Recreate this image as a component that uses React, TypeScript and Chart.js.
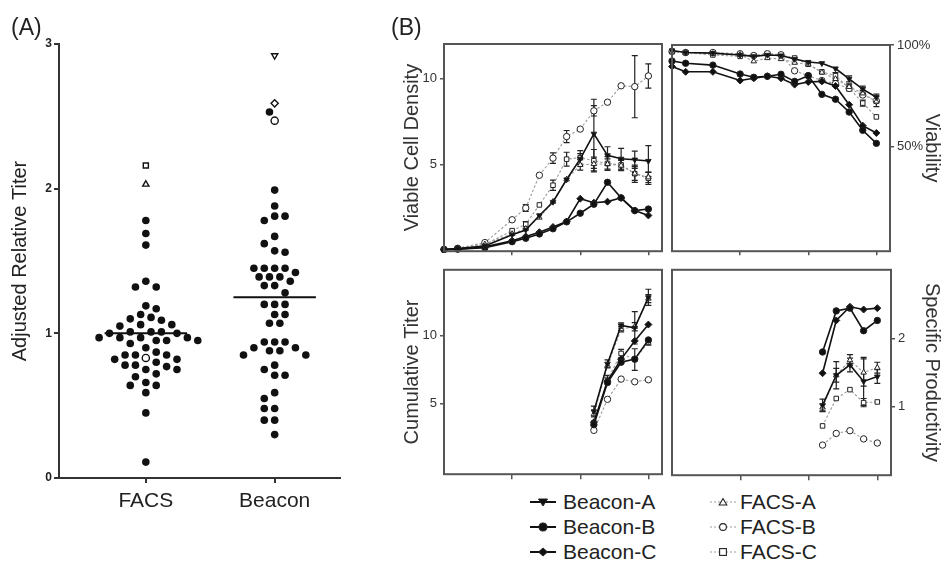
import React, { useEffect, useRef } from "react";
import { Chart, registerables } from "chart.js";
Chart.register(...registerables);

const FONT = "'Liberation Sans', Arial, Helvetica, sans-serif";

// ---------------- Panel A data ----------------
const groupCategories = ["FACS", "Beacon"];
const facsTiters = [
  1.78, 1.69, 1.61, 1.36, 1.32, 1.32, 1.19, 1.17, 1.13, 1.11, 1.1, 1.09, 1.06, 1.06, 1.05,
  1.01, 1.01, 1.01, 1.0, 1.0, 0.97, 0.97, 0.97, 0.97, 0.95, 0.95, 0.95, 0.93, 0.9, 0.87,
  0.85, 0.85, 0.85, 0.82, 0.82, 0.8, 0.78, 0.78, 0.77, 0.75, 0.75, 0.72, 0.7, 0.66, 0.64,
  0.64, 0.59, 0.45, 0.11,
];
const beaconTiters = [
  2.53, 1.99, 1.88, 1.81, 1.81, 1.78, 1.67, 1.62, 1.57, 1.56, 1.45, 1.45, 1.45, 1.45, 1.42,
  1.39, 1.39, 1.39, 1.36, 1.33, 1.33, 1.28, 1.2, 1.2, 1.2, 1.13, 1.13, 1.07, 1.07, 0.94,
  0.94, 0.94, 0.9, 0.9, 0.88, 0.88, 0.85, 0.85, 0.78, 0.75, 0.71, 0.71, 0.59, 0.55, 0.48,
  0.48, 0.4, 0.4, 0.3,
];
const facsPickedNames = ["FACS-A", "FACS-B", "FACS-C"];
const facsPickedTiters = [2.03, 0.83, 2.16];
const beaconPickedNames = ["Beacon-A", "Beacon-B", "Beacon-C"];
const beaconPickedTiters = [2.92, 2.47, 2.59];
const groupMeans = [1.0, 1.25];

// ---------------- Panel B data ----------------
const seriesNames = ["Beacon-A", "Beacon-B", "Beacon-C", "FACS-A", "FACS-B", "FACS-C"];
const growthDays = [0, 1, 3, 5, 6, 7, 8, 9, 10, 11, 12, 13, 14, 15];
const titerDays = [11, 12, 13, 14, 15];

// Viable cell density
const vcdBeaconA = [0.1, 0.15, 0.3, 0.95, 1.23, 2.07, 2.85, 4.15, 5.35, 6.8, 5.55, 5.35, 5.3, 5.22];
const vcdBeaconB = [0.1, 0.12, 0.2, 0.55, 0.75, 1.0, 1.3, 1.7, 2.2, 2.72, 3.99, 3.09, 2.35, 2.44];
const vcdBeaconC = [0.1, 0.12, 0.25, 0.6, 0.85, 1.1, 1.4, 1.72, 3.04, 2.81, 2.87, 3.09, 2.35, 2.07];
const vcdFacsA = [0.1, 0.15, 0.4, 1.0, 1.3, 1.95, 2.87, 4.16, 5.0, 5.05, 5.05, 4.96, 4.5, 4.28];
const vcdFacsB = [0.1, 0.17, 0.5, 1.82, 2.5, 4.4, 5.39, 6.64, 7.07, 8.13, 8.63, 9.58, 9.53, 10.15];
const vcdFacsC = [0.1, 0.15, 0.39, 1.19, 1.56, 2.68, 3.82, 5.33, 5.42, 5.24, 5.08, 5.0, 4.49, 4.22];
const vcdErrBeaconA = [0, 0, 0, 0, 0, 0, 0, 0, 0.3, 2.0, 0.5, 0.6, 0.5, 0.9];
const vcdErrFacsA = [0, 0, 0, 0, 0, 0, 0, 0, 0.3, 0.4, 0.3, 0.3, 0.4, 0.3];
const vcdErrFacsB = [0, 0, 0, 0, 0.2, 0, 0.3, 0.35, 0, 0.3, 0, 0, 1.8, 0.7];
const vcdErrFacsC = [0, 0, 0, 0, 0.15, 0, 0.3, 0.4, 0.4, 0.65, 0.4, 0.3, 0.5, 0.35];

// Viability (%)
const viaBeaconA = [97.3, 96.3, 96.0, 95.1, 94.4, 95.1, 94.8, 93.1, 91.6, 91.0, 88.4, 83.3, 78.3, 74.3];
const viaBeaconB = [92.1, 91.0, 90.1, 85.7, 84.1, 84.6, 85.6, 82.1, 84.9, 75.7, 73.3, 67.0, 58.0, 51.6];
const viaBeaconC = [89.4, 86.8, 86.8, 82.5, 83.6, 84.6, 83.6, 80.5, 81.8, 82.1, 79.8, 70.6, 60.3, 56.7];
const viaFacsA = [96.8, 96.3, 95.7, 95.2, 92.0, 93.6, 93.1, 91.3, 90.5, 86.5, 83.3, 79.4, 76.2, 72.2];
const viaFacsB = [96.8, 96.3, 96.3, 95.7, 94.8, 95.7, 95.2, 87.3, 84.9, 82.5, 81.0, 78.6, 75.4, 72.5];
const viaFacsC = [96.8, 96.2, 95.1, 94.4, 94.8, 95.7, 95.1, 93.6, 90.5, 86.8, 84.9, 78.9, 71.4, 64.6];
const viaErrBeaconA = [0, 0, 0, 0, 0, 0, 0, 0, 0, 0, 0, 1.5, 1.5, 1.5];
const viaErrFacsA = [0, 0, 0, 0, 0, 0, 0, 0, 0, 0, 0, 1.5, 1.5, 2.5];
const viaErrFacsC = [0, 0, 0, 0, 0, 0, 0, 0, 0, 0, 1.5, 1.5, 1.5, 0];

// Cumulative titer
const ctBeaconA = [4.4, 7.93, 10.77, 10.6, 12.86];
const ctBeaconB = [3.42, 6.54, 8.05, 8.28, 9.7];
const ctBeaconC = [3.6, 6.65, 8.28, 9.63, 10.84];
const ctFacsA = [4.2, 7.8, 10.5, 10.68, 12.77];
const ctFacsB = [3.0, 5.3, 6.8, 6.6, 6.75];
const ctFacsC = [3.56, 6.77, 8.7, 8.25, 9.52];
const ctErrBeaconA = [0.4, 0.3, 0.2, 1.2, 0.6];
const ctErrFacsA = [0, 0, 0.2, 0.3, 0.3];
const ctErrFacsC = [0, 0.3, 0.3, 0.8, 0.2];

// Specific productivity
const spBeaconA = [1.02, 1.46, 1.61, 1.37, 1.44];
const spBeaconB = [1.8, 2.4, 2.44, 2.11, 2.26];
const spBeaconC = [1.49, 2.26, 2.46, 2.42, 2.44];
const spFacsA = [0.99, 1.46, 1.68, 1.5, 1.57];
const spFacsB = [0.44, 0.61, 0.65, 0.53, 0.47];
const spFacsC = [0.72, 1.12, 1.25, 1.06, 1.07];
const spErrBeaconA = [0.09, 0.2, 0.1, 0.35, 0.1];
const spErrFacsA = [0.05, 0.1, 0.08, 0.2, 0.08];
const spErrFacsC = [0, 0, 0, 0.06, 0];

// ---------------- styles ----------------
type Style = { pointStyle: string; rotation: number; filled: boolean; beacon: boolean };
const STYLES: Record<string, Style> = {
  "Beacon-A": { pointStyle: "triangle", rotation: 180, filled: true, beacon: true },
  "Beacon-B": { pointStyle: "circle", rotation: 0, filled: true, beacon: true },
  "Beacon-C": { pointStyle: "rectRot", rotation: 0, filled: true, beacon: true },
  "FACS-A": { pointStyle: "triangle", rotation: 0, filled: false, beacon: false },
  "FACS-B": { pointStyle: "circle", rotation: 0, filled: false, beacon: false },
  "FACS-C": { pointStyle: "rect", rotation: 0, filled: false, beacon: false },
};

function seriesDataset(name: string, days: number[], values: number[], errors?: number[]) {
  const s = STYLES[name];
  return {
    label: name,
    data: days.map((d, i) => ({ x: d, y: values[i] })),
    errorBars: errors,
    showLine: true,
    borderColor: s.beacon ? "#111" : "#9a9a9a",
    borderWidth: s.beacon ? 1.6 : 1.1,
    borderDash: s.beacon ? [] : [2.5, 2],
    pointStyle: s.pointStyle,
    pointRotation: s.rotation,
    pointRadius: s.pointStyle === "rectRot" ? 3.5 : 3.2,
    pointBackgroundColor: s.filled ? "#111" : "#fff",
    pointBorderColor: "#222",
    pointBorderWidth: 1,
    clip: false as any,
  };
}

const framePlugin = {
  id: "frame",
  afterDraw(chart: any) {
    const { left, top, right, bottom } = chart.chartArea;
    const ctx = chart.ctx;
    ctx.save();
    ctx.strokeStyle = "#555";
    ctx.lineWidth = 2;
    ctx.strokeRect(left, top, right - left, bottom - top);
    ctx.restore();
  },
};

const errorBarPlugin = {
  id: "errorBars",
  beforeDatasetsDraw(chart: any) {
    const ctx = chart.ctx;
    const xs = chart.scales.x;
    const ys = chart.scales.y;
    chart.data.datasets.forEach((ds: any) => {
      const errs: number[] | undefined = ds.errorBars;
      if (!errs) return;
      ctx.save();
      ctx.strokeStyle = "#222";
      ctx.lineWidth = 1.2;
      ds.data.forEach((p: any, i: number) => {
        const e = errs[i];
        if (!e) return;
        const x = xs.getPixelForValue(p.x);
        const y1 = ys.getPixelForValue(p.y - e);
        const y2 = ys.getPixelForValue(p.y + e);
        ctx.beginPath();
        ctx.moveTo(x, y1);
        ctx.lineTo(x, y2);
        ctx.moveTo(x - 3, y1);
        ctx.lineTo(x + 3, y1);
        ctx.moveTo(x - 3, y2);
        ctx.lineTo(x + 3, y2);
        ctx.stroke();
      });
      ctx.restore();
    });
  },
};

type PanelOpts = {
  datasets: any[];
  yMin: number;
  yMax: number;
  yTicks: number[];
  suffix: string;
  title: string;
  yPos: "left" | "right";
  padding: any;
  yWidth: number;
  xHeight: number;
  titlePad: number;
};

function panelConfig(p: PanelOpts): any {
  return {
    type: "scatter",
    data: { datasets: p.datasets },
    options: {
      animation: false,
      responsive: false,
      maintainAspectRatio: false,
      layout: { padding: p.padding },
      plugins: { legend: { display: false }, tooltip: { enabled: false } },
      scales: {
        x: {
          type: "linear",
          min: 0,
          max: 16,
          afterBuildTicks: (s: any) => {
            s.ticks = [5, 10, 15].map((v) => ({ value: v }));
          },
          ticks: { display: false },
          grid: { drawOnChartArea: false, drawTicks: true, tickLength: p.xHeight, color: "#555", lineWidth: 1.5 },
          border: { display: false },
          afterFit: (s: any) => {
            s.height = p.xHeight;
          },
        },
        y: {
          type: "linear",
          position: p.yPos,
          min: p.yMin,
          max: p.yMax,
          afterBuildTicks: (s: any) => {
            s.ticks = p.yTicks.map((v) => ({ value: v }));
          },
          ticks: {
            font: { family: FONT, size: 13 },
            color: "#333",
            padding: 3,
            callback: (v: any) => `${v}${p.suffix}`,
          },
          grid: { drawOnChartArea: false, drawTicks: true, tickLength: 4, color: "#555", lineWidth: 1.5 },
          border: { display: false },
          title: {
            display: true,
            text: p.title,
            font: { family: FONT, size: 20 },
            color: "#333",
            padding: { top: p.titlePad, bottom: 0 },
          },
          afterFit: (s: any) => {
            s.width = p.yWidth;
          },
        },
      },
    },
    plugins: [framePlugin, errorBarPlugin],
  };
}

function swarmOffsets(values: number[]): number[] {
  const PX_X = 129;
  const PX_Y = 144.7;
  const D = 9.4;
  const STEP = 5.2;
  const idx = values.map((_, i) => i).sort((a, b) => values[b] - values[a]);
  const placed: { x: number; y: number }[] = [];
  const out = new Array(values.length).fill(0);
  idx.forEach((i, n) => {
    const y = values[i] * PX_Y;
    for (let k = 0; k < 80; k++) {
      const cands = k === 0 ? [0] : n % 2 ? [k * STEP, -k * STEP] : [-k * STEP, k * STEP];
      let found: number | null = null;
      for (const c of cands) {
        if (placed.every((q) => Math.hypot(q.x - c, q.y - y) >= D)) {
          found = c;
          break;
        }
      }
      if (found !== null) {
        placed.push({ x: found, y });
        out[i] = found / PX_X;
        break;
      }
    }
  });
  return out;
}

function panelAConfig(): any {
  const groups = [
    { values: facsTiters, picked: facsPickedTiters, names: facsPickedNames },
    { values: beaconTiters, picked: beaconPickedTiters, names: beaconPickedNames },
  ];
  const datasets: any[] = [];
  groups.forEach((g, gi) => {
    const center = gi + 1;
    const all = [...g.values, ...g.picked];
    const off = swarmOffsets(all);
    datasets.push({
      label: groupCategories[gi] + " mean",
      data: [
        { x: center - 0.32, y: groupMeans[gi] },
        { x: center + 0.32, y: groupMeans[gi] },
      ],
      showLine: true,
      borderColor: "#111",
      borderWidth: 2,
      pointRadius: 0,
    });
    datasets.push({
      label: groupCategories[gi],
      data: g.values.map((v, i) => ({ x: center + off[i], y: v })),
      pointStyle: "circle",
      pointRadius: 3.8,
      pointBackgroundColor: "#111",
      pointBorderColor: "#111",
      pointBorderWidth: 0,
      showLine: false,
    });
    g.picked.forEach((v, j) => {
      const s = STYLES[g.names[j]];
      datasets.push({
        label: g.names[j],
        data: [{ x: center + off[g.values.length + j], y: v }],
        pointStyle: s.pointStyle,
        pointRotation: s.rotation,
        pointRadius: 3.6,
        pointBackgroundColor: "#fff",
        pointBorderColor: "#111",
        pointBorderWidth: 1.4,
        showLine: false,
      });
    });
  });
  return {
    type: "scatter",
    data: { datasets },
    options: {
      animation: false,
      responsive: false,
      maintainAspectRatio: false,
      layout: { padding: { top: 44, right: 5, bottom: 12, left: 0 } },
      plugins: { legend: { display: false }, tooltip: { enabled: false } },
      scales: {
        x: {
          type: "linear",
          min: 0.326,
          max: 2.504,
          afterBuildTicks: (s: any) => {
            s.ticks = [1, 2].map((v) => ({ value: v }));
          },
          ticks: {
            font: { family: FONT, size: 21 },
            color: "#222",
            padding: 6,
            maxRotation: 0,
            autoSkip: false,
            callback: (v: any) => groupCategories[Math.round(v) - 1],
          },
          grid: { drawOnChartArea: false, drawTicks: true, tickLength: 5, color: "#333", lineWidth: 2 },
          border: { display: true, color: "#333", width: 2 },
          afterFit: (s: any) => {
            s.height = 40;
          },
        },
        y: {
          type: "linear",
          min: 0,
          max: 3,
          afterBuildTicks: (s: any) => {
            s.ticks = [0, 1, 2, 3].map((v) => ({ value: v }));
          },
          ticks: { font: { family: FONT, size: 12, weight: "bold" }, color: "#222", padding: 2 },
          grid: { drawOnChartArea: false, drawTicks: true, tickLength: 5, color: "#333", lineWidth: 2 },
          border: { display: true, color: "#333", width: 2 },
          title: {
            display: true,
            text: "Adjusted Relative Titer",
            font: { family: FONT, size: 20 },
            color: "#222",
            padding: { top: 8, bottom: 0 },
          },
          afterFit: (s: any) => {
            s.width = 59;
          },
        },
      },
    },
  };
}

function buildPanelB() {
  const mk = (days: number[], vals: number[][], errs: (number[] | undefined)[]) =>
    seriesNames.map((n, i) => seriesDataset(n, days, vals[i], errs[i]));
  return {
    tl: panelConfig({
      datasets: mk(growthDays, [vcdBeaconA, vcdBeaconB, vcdBeaconC, vcdFacsA, vcdFacsB, vcdFacsC], [
        vcdErrBeaconA, undefined, undefined, vcdErrFacsA, vcdErrFacsB, vcdErrFacsC,
      ]),
      yMin: 0, yMax: 12, yTicks: [5, 10], suffix: "", title: "Viable Cell Density", yPos: "left",
      padding: { top: 14, right: 2, bottom: 0, left: 0 }, yWidth: 59, xHeight: 4, titlePad: 15,
    }),
    tr: panelConfig({
      datasets: mk(growthDays, [viaBeaconA, viaBeaconB, viaBeaconC, viaFacsA, viaFacsB, viaFacsC], [
        viaErrBeaconA, undefined, undefined, viaErrFacsA, undefined, viaErrFacsC,
      ]),
      yMin: -1.5, yMax: 100, yTicks: [50, 100], suffix: "%", title: "Viability", yPos: "right",
      padding: { top: 15, right: 0, bottom: 0, left: 2 }, yWidth: 54, xHeight: 4, titlePad: 0,
    }),
    bl: panelConfig({
      datasets: mk(titerDays, [ctBeaconA, ctBeaconB, ctBeaconC, ctFacsA, ctFacsB, ctFacsC], [
        ctErrBeaconA, undefined, undefined, ctErrFacsA, undefined, ctErrFacsC,
      ]),
      yMin: -0.25, yMax: 14.9, yTicks: [5, 10], suffix: "", title: "Cumulative Titer", yPos: "left",
      padding: { top: 3, right: 2, bottom: 3, left: 0 }, yWidth: 59, xHeight: 5, titlePad: 15,
    }),
    br: panelConfig({
      datasets: mk(titerDays, [spBeaconA, spBeaconB, spBeaconC, spFacsA, spFacsB, spFacsC], [
        spErrBeaconA, undefined, undefined, spErrFacsA, undefined, spErrFacsC,
      ]),
      yMin: 0, yMax: 3, yTicks: [1, 2], suffix: "", title: "Specific Productivity", yPos: "right",
      padding: { top: 3, right: 0, bottom: 3, left: 2 }, yWidth: 53, xHeight: 5, titlePad: 0,
    }),
  };
}

function LegendGlyph({ name }: { name: string }) {
  const s = STYLES[name];
  const fill = s.filled ? "#111" : "#fff";
  const cx = 13, cy = 8;
  let marker: React.ReactNode = null;
  if (s.pointStyle === "circle") {
    marker = <circle cx={cx} cy={cy} r={s.filled ? 4 : 3.4} fill={fill} stroke="#222" strokeWidth={1.1} />;
  } else if (s.pointStyle === "triangle" && s.rotation === 180) {
    marker = <polygon points={`${cx - 4.5},${cy - 3} ${cx + 4.5},${cy - 3} ${cx},${cy + 4}`} fill={fill} stroke="#222" strokeWidth={1} />;
  } else if (s.pointStyle === "triangle") {
    marker = <polygon points={`${cx - 3.8},${cy + 3} ${cx + 3.8},${cy + 3} ${cx},${cy - 3.5}`} fill={fill} stroke="#222" strokeWidth={1.1} />;
  } else if (s.pointStyle === "rectRot") {
    marker = <polygon points={`${cx - 4.5},${cy} ${cx},${cy - 4} ${cx + 4.5},${cy} ${cx},${cy + 4}`} fill={fill} stroke="#222" strokeWidth={1} />;
  } else {
    marker = <rect x={cx - 3.4} y={cy - 3.4} width={6.8} height={6.8} fill={fill} stroke="#222" strokeWidth={1.1} />;
  }
  return (
    <svg width={26} height={16} style={{ display: "block" }}>
      <line x1={0} y1={cy} x2={26} y2={cy} stroke={s.beacon ? "#111" : "#9a9a9a"} strokeWidth={s.beacon ? 2 : 1.2} strokeDasharray={s.beacon ? undefined : "2,2"} />
      {marker}
    </svg>
  );
}

export default function App() {
  const aRef = useRef<HTMLCanvasElement>(null);
  const tlRef = useRef<HTMLCanvasElement>(null);
  const trRef = useRef<HTMLCanvasElement>(null);
  const blRef = useRef<HTMLCanvasElement>(null);
  const brRef = useRef<HTMLCanvasElement>(null);

  useEffect(() => {
    Chart.defaults.font.family = FONT;
    const b = buildPanelB();
    const charts = [
      new Chart(aRef.current!, panelAConfig()),
      new Chart(tlRef.current!, b.tl),
      new Chart(trRef.current!, b.tr),
      new Chart(blRef.current!, b.bl),
      new Chart(brRef.current!, b.br),
    ];
    return () => charts.forEach((c) => c.destroy());
  }, []);

  const cv = (ref: any, left: number, top: number, w: number, h: number) => (
    <canvas ref={ref} width={w} height={h} style={{ position: "absolute", left, top, width: w, height: h }} />
  );

  const legendRows = [0, 1, 2];
  return (
    <div style={{ position: "absolute", left: 0, top: 0, width: 944, height: 567, background: "#fff", overflow: "hidden", fontFamily: FONT }}>
      {cv(aRef, 0, 0, 345, 530)}
      {cv(tlRef, 385, 30, 282, 232)}
      {cv(trRef, 667, 30, 277, 232)}
      {cv(blRef, 385, 259, 282, 226)}
      {cv(brRef, 667, 259, 277, 227)}
      <div style={{ position: "absolute", left: 11, top: 14, fontSize: 23, color: "#222" }}>(A)</div>
      <div style={{ position: "absolute", left: 391, top: 14, fontSize: 23, color: "#222" }}>(B)</div>
      {legendRows.map((r) => (
        <React.Fragment key={r}>
          <div style={{ position: "absolute", left: 530, top: 489 + r * 25, height: 26, display: "flex", alignItems: "center", fontSize: 21, color: "#222" }}>
            <LegendGlyph name={seriesNames[r]} />
            <span style={{ marginLeft: 7 }}>{seriesNames[r]}</span>
          </div>
          <div style={{ position: "absolute", left: 710, top: 489 + r * 25, height: 26, display: "flex", alignItems: "center", fontSize: 21, color: "#222" }}>
            <LegendGlyph name={seriesNames[r + 3]} />
            <span style={{ marginLeft: 4 }}>{seriesNames[r + 3]}</span>
          </div>
        </React.Fragment>
      ))}
    </div>
  );
}
